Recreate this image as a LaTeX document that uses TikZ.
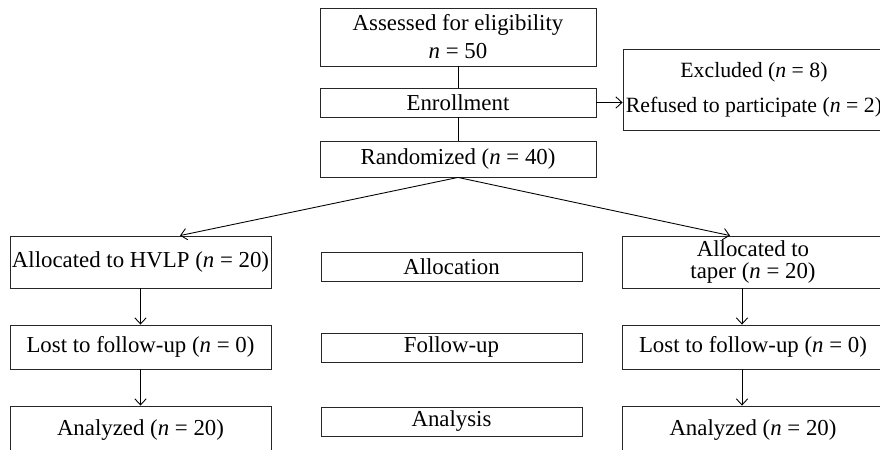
\documentclass[tikz,border=0pt]{standalone}
\usepackage{fontspec}
\setmainfont{Liberation Serif}
\usepackage{tikz}
\usetikzlibrary{arrows.meta}
\usetikzlibrary{positioning}

\begin{document}
\begin{tikzpicture}[x=0.02cm,y=-0.02cm,line width=0.5pt,>={Straight Barb[length=3.5pt,width=6.5pt]},
  box/.style={draw=black!85,rectangle,align=center,inner sep=0pt,font=\fontsize{13}{15}\selectfont},
  wbox/.style={box,minimum width=5.22cm},
  stage/.style={box,minimum width=5.22cm,minimum height=0.58cm}]
\useasboundingbox (0,0) rectangle (880,450);
\clip (0,0) rectangle (880,450);
%% top column
\node[box,minimum width=5.52cm,minimum height=1.16cm] (assess) at (458,37) {Assessed for eligibility\\[1pt]\textit{n} = 50};
\node[box,minimum width=5.52cm,minimum height=0.58cm] (enroll) at (458,102.5) {Enrollment};
\node[box,minimum width=5.52cm,minimum height=0.72cm] (random) at (458,159) {Randomized (\textit{n} = 40)};
\node[box,minimum width=5.24cm,minimum height=1.62cm,font=\fontsize{12.4}{14}\selectfont] (excl) at (754,90) {Excluded (\textit{n} = 8)\\[6pt]Refused to participate (\textit{n} = 2)};
%% left arm
\node[wbox,minimum height=1.04cm] (allocL) at (140.5,262) {Allocated to HVLP (\textit{n} = 20)};
\node[wbox,minimum height=0.88cm] (lostL) at (140.5,347) {Lost to follow-up (\textit{n} = 0)};
\node[wbox,minimum height=0.96cm] (anaL) at (140.5,430) {Analyzed (\textit{n} = 20)};
%% stages
\node[stage] (salloc) at (451.5,266.5) {Allocation};
\node[stage] (sfollow) at (451.5,347.5) {Follow-up};
\node[stage] (sana) at (451.5,421.5) {Analysis};
%% right arm
\node[wbox,minimum width=5.24cm,minimum height=1.04cm] (allocR) at (753,262) {Allocated to\\[-3pt]taper (\textit{n} = 20)};
\node[wbox,minimum width=5.24cm,minimum height=0.88cm] (lostR) at (753,347) {Lost to follow-up (\textit{n} = 0)};
\node[wbox,minimum width=5.24cm,minimum height=0.96cm] (anaR) at (753,430) {Analyzed (\textit{n} = 20)};
%% connectors
\draw (assess) -- (enroll);
\draw (enroll) -- (random);
\draw[->] (enroll.east) -- (enroll.east -| excl.west);
\draw[->] (random.south) -- ([xshift=0.79cm]allocL.north);
\draw[->] (random.south) -- ([xshift=-0.46cm]allocR.north);
\draw[->] (allocL) -- (lostL);
\draw[->] (lostL) -- (anaL);
\draw[->] ([xshift=-0.22cm]allocR.south) -- ([xshift=-0.22cm]lostR.north);
\draw[->] ([xshift=-0.22cm]lostR.south) -- ([xshift=-0.22cm]anaR.north);
\end{tikzpicture}
\end{document}
